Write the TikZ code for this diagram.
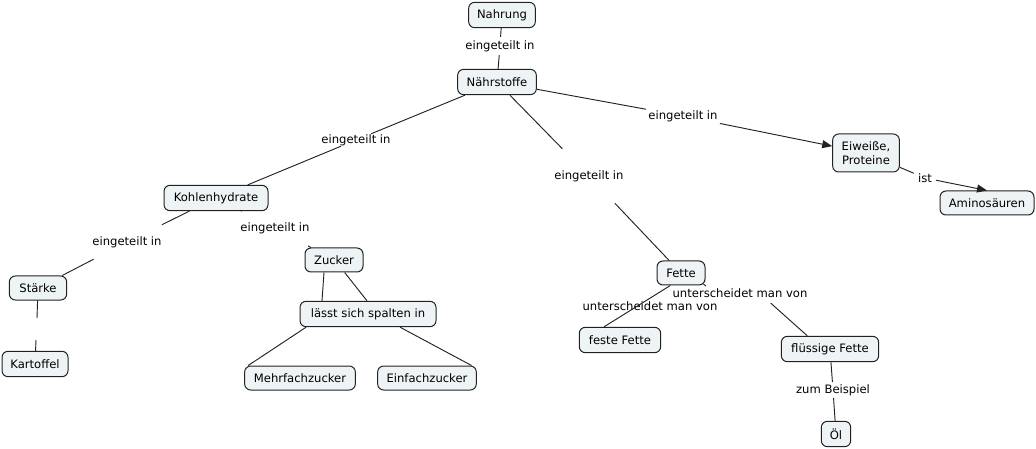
\documentclass[tikz,border=0pt]{standalone}
\usepackage{fontspec}
\setmainfont{DejaVu Sans}
\usetikzlibrary{arrows.meta}
\definecolor{boxfill}{HTML}{EEF3F5}
\definecolor{edgecol}{HTML}{222222}
\tikzset{
  concept/.style={draw=edgecol, line width=0.75pt, rounded corners=4.5pt, fill=boxfill,
    minimum height=19pt, inner sep=1pt, align=center, font=\fontsize{8.7pt}{10.5pt}\selectfont},
  lab/.style={inner sep=2.5pt, font=\fontsize{8.7pt}{10.5pt}\selectfont},
  conn/.style={draw=edgecol, line width=0.7pt},
  arr/.style={conn, -{Triangle[length=7.5pt,width=6pt]}}
}
\begin{document}
\begin{tikzpicture}[x=0.75pt,y=-0.75pt]
\useasboundingbox (0,0) rectangle (1036,449);
% concepts
\node[concept, minimum width=50pt] (nahrung) at (502,15) {Nahrung};
\node[concept, minimum width=59pt] (naehr) at (497,82) {Nährstoffe};
\node[concept, minimum width=50pt, minimum height=28.5pt] (eiweiss) at (866,153) {Eiweiße,\\Proteine};
\node[concept, minimum width=70.5pt, minimum height=18pt] (amino) at (987,203) {Aminosäuren};
\node[concept, minimum width=78pt] (kohlen) at (216,198) {Kohlenhydrate};
\node[concept, minimum width=43pt, minimum height=18pt] (staerke) at (38,288) {Stärke};
\node[concept, minimum width=49.5pt] (kartoffel) at (35,364) {Kartoffel};
\node[concept, minimum width=43.5pt, minimum height=18pt] (zucker) at (334,260) {Zucker};
\node[concept, minimum width=102pt] (spalt) at (368,314) {lässt sich spalten in};
\node[concept, minimum width=83pt, minimum height=18pt] (mehr) at (300,378) {Mehrfachzucker};
\node[concept, minimum width=74pt, minimum height=18pt] (einfach) at (427,378) {Einfachzucker};
\node[concept, minimum width=36pt, minimum height=18pt] (fette) at (681,273) {Fette};
\node[concept, minimum width=61pt] (feste) at (620,340) {feste Fette};
\node[concept, minimum width=73pt] (fluessig) at (830,349) {flüssige Fette};
\node[concept, minimum width=22pt] (oel) at (836,434) {Öl};
% linking phrases
\node[lab] (l1) at (500,46) {eingeteilt in};
\node[lab, inner sep=0.3pt] (l2) at (356,140) {eingeteilt in};
\node[lab, inner ysep=16pt] (l3) at (589,176) {eingeteilt in};
\node[lab, inner sep=1.5pt] (l4) at (683,116) {eingeteilt in};
\node[lab, inner sep=3pt] (l5) at (925,178) {ist};
\node[lab, inner xsep=1pt, inner ysep=8.5pt] (l6) at (127,242) {eingeteilt in};
\node[lab, inner ysep=9pt] (l7) at (275,228) {eingeteilt in};
\node[lab, inner sep=1pt] (l8) at (650,306) {unterscheidet man von};
\node[lab, inner sep=1pt, inner ysep=4pt] (l9) at (740,293) {unterscheidet man von};
\node[lab, inner sep=1.5pt] (l10) at (833,390) {zum Beispiel};
\coordinate (e1) at (37,318);
\coordinate (e2) at (36,340);
\coordinate (f1) at (706,286);
% connectors
\draw[conn] (nahrung) -- (l1) -- (naehr);
\draw[conn] (naehr) -- (l2) -- (kohlen);
\draw[conn] (naehr) -- (l3) -- (fette);
\draw[conn] (naehr) -- (l4);
\draw[arr] (l4) -- (eiweiss);
\draw[conn] (eiweiss) -- (l5);
\draw[arr] (l5) -- (amino.north);
\draw[conn] (kohlen) -- (l6) -- (staerke);
\draw[conn] (kohlen) -- (l7) -- (zucker);
\draw[conn] (staerke) -- (e1);
\draw[conn] (e2) -- (kartoffel);
\draw[conn] ([xshift=-7.5pt]zucker.south) -- ([xshift=-34.5pt]spalt.north);
\draw[conn] ([xshift=8pt]zucker.south) -- ([xshift=-0.75pt]spalt.north);
\draw[conn] ([xshift=5pt]spalt.south west) -- ([xshift=3pt]mehr.north west);
\draw[conn] ([xshift=24pt]spalt.south) -- ([xshift=-4pt]einfach.north east);
\draw[conn] ([xshift=-8pt]fette.south) -- ([xshift=-12pt]feste.north);
\draw[conn] ([xshift=-1.5pt,yshift=1pt]fette.south east) -- (f1);
\draw[conn] ([xshift=23pt]l9.south) -- ([xshift=-17pt]fluessig.north);
\draw[conn] (fluessig) -- (l10) -- (oel);
\end{tikzpicture}
\end{document}
